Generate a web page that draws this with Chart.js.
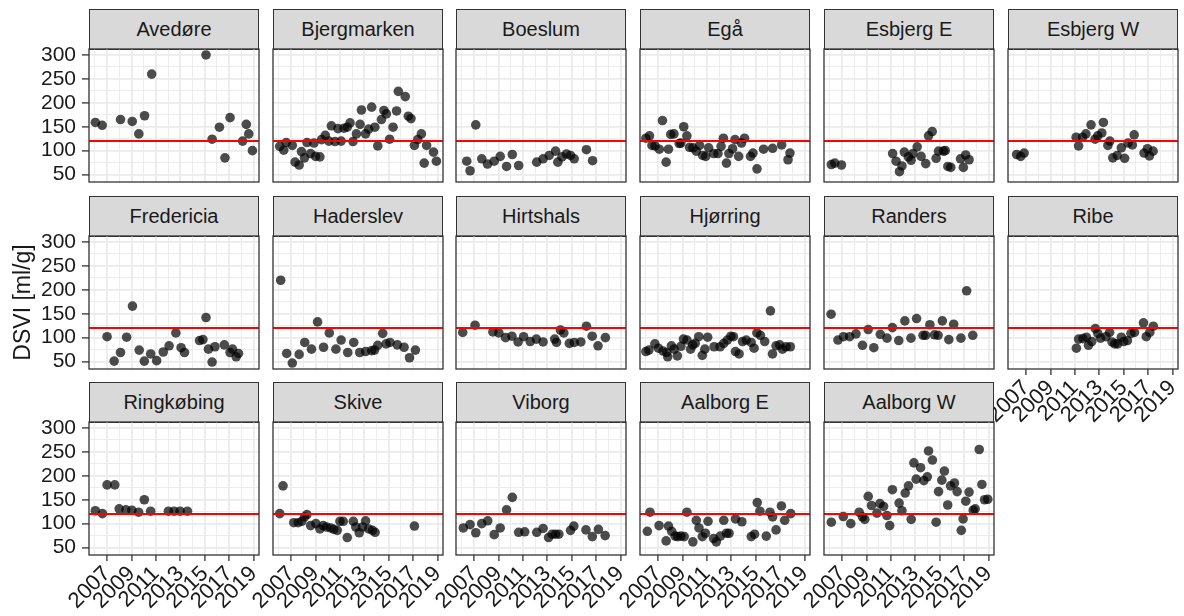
<!DOCTYPE html>
<html>
<head>
<meta charset="utf-8">
<script src="https://cdn.jsdelivr.net/npm/chart.js@4.4.1/dist/chart.umd.min.js"></script>
<style>
  html, body { margin: 0; padding: 0; background: #fff; }
  #page { position: relative; width: 1184px; height: 616px; overflow: hidden; }
  .strip {
    position: absolute; box-sizing: border-box;
    background: #d9d9d9; border: 1px solid #333;
    font-family: "Liberation Sans"; font-size: 20px; color: #1a1a1a;
    text-align: center; line-height: 39px; white-space: nowrap;
  }
  canvas { position: absolute; }
</style>
</head>
<body>
<div id="page"></div>
<script>
// DSVI samples per plant: [year, DSVI ml/g]
const avedore = [[2006.04,159],[2006.6,153],[2008.1,165],[2009.06,161],[2009.6,135],[2010.07,173],[2010.65,260],
  [2015.1,300],[2015.6,124],[2016.2,149],[2016.65,85],[2017.07,169],[2018.1,120],[2018.4,155],[2018.6,135],[2018.9,100]];
const bjergmarken = [[2006.07,109],[2006.4,101],[2006.6,117],[2007.1,111],[2007.33,76],[2007.66,70],[2007.85,98],
  [2008.1,85],[2008.3,117],[2008.6,94],[2008.87,116],[2009.0,88],[2009.36,87],[2009.5,123],[2009.8,132],[2010.1,120],
  [2010.3,152],[2010.6,119],[2010.84,146],[2011.1,120],[2011.33,147],[2011.6,149],[2011.83,158],[2012.07,119],
  [2012.35,135],[2012.65,155],[2012.76,185],[2013.1,135],[2013.35,145],[2013.6,191],[2013.86,149],[2014.1,110],
  [2014.4,165],[2014.6,184],[2014.8,177],[2015.07,124],[2015.35,149],[2015.64,183],[2015.78,224],[2016.35,213],
  [2016.6,172],[2016.82,167],[2017.1,111],[2017.37,123],[2017.67,135],[2017.9,74],[2018.1,111],[2018.66,97],[2018.9,78]];
const boeslum = [[2006.4,78],[2006.67,58],[2007.14,154],[2007.63,83],[2008.1,72],[2008.65,78],[2009.14,88],[2009.66,67],
  [2010.13,92],[2010.65,69],[2012.13,76],[2012.65,83],[2013.15,90],[2013.67,99],[2013.86,76],[2014.2,87],[2014.57,93],
  [2014.9,90],[2015.2,83],[2016.2,102],[2016.7,79]];
const egaa = [[2006.0,126],[2006.3,131],[2006.5,111],[2006.75,110],[2007.1,103],[2007.36,163],[2007.66,76],[2007.85,103],
  [2008.04,134],[2008.3,135],[2008.73,115],[2008.87,116],[2009.1,150],[2009.36,131],[2009.58,107],[2009.85,106],
  [2010.13,99],[2010.4,111],[2010.65,90],[2010.9,88],[2011.14,106],[2011.56,94],[2011.9,94],[2012.16,109],[2012.35,126],
  [2012.6,74],[2012.8,94],[2013.1,104],[2013.3,123],[2013.6,88],[2013.83,116],[2014.08,126],[2014.57,88],[2014.77,95],
  [2015.1,62],[2015.64,103],[2016.38,105],[2017.12,112],[2017.64,81],[2017.8,95]];
const esbjergE = [[2006.12,71],[2006.4,74],[2006.95,70],[2011.14,94],[2011.42,78],[2011.7,56],[2011.9,68],[2012.1,97],
  [2012.43,87],[2012.65,80],[2012.8,94],[2013.15,108],[2013.47,88],[2013.85,73],[2014.08,131],[2014.38,140],[2014.7,84],
  [2014.9,99],[2015.3,99],[2015.45,100],[2015.66,67],[2015.9,65],[2016.7,83],[2016.93,65],[2017.12,91],[2017.4,81]];
const esbjergW = [[2006.23,92],[2006.56,88],[2006.84,95],[2011.1,128],[2011.3,110],[2011.63,128],[2011.9,135],
  [2012.32,154],[2012.65,124],[2012.87,131],[2013.2,137],[2013.33,159],[2013.7,111],[2013.86,120],[2014.1,85],
  [2014.46,90],[2014.8,106],[2015.07,84],[2015.35,116],[2015.7,112],[2015.85,133],[2016.66,95],[2016.94,104],
  [2017.1,89],[2017.4,99]];
const fredericia = [[2007.0,102],[2007.58,51],[2008.1,69],[2008.6,101],[2009.08,166],[2009.63,74],[2010.05,51],
  [2010.57,66],[2011.06,52],[2011.6,70],[2012.08,83],[2012.63,110],[2013.06,79],[2013.34,69],[2014.57,94],[2014.85,96],
  [2015.1,142],[2015.3,76],[2015.6,49],[2015.83,81],[2016.6,85],[2017.07,69],[2017.27,76],[2017.57,60],[2017.76,67]];
const haderslev = [[2006.15,220],[2006.64,67],[2007.1,47],[2007.66,65],[2008.12,90],[2008.67,76],[2009.17,133],
  [2009.66,80],[2010.13,110],[2010.67,76],[2011.1,95],[2011.64,69],[2012.13,90],[2012.62,69],[2013.1,71],[2013.6,73],
  [2013.83,74],[2014.1,84],[2014.5,109],[2014.78,87],[2015.1,90],[2015.7,85],[2016.25,80],[2016.7,58],[2017.18,74]];
const hirtshals = [[2006.07,111],[2007.08,126],[2008.54,112],[2009.03,110],[2009.58,100],[2010.1,103],[2010.6,91],
  [2011.06,102],[2011.6,92],[2012.1,97],[2012.65,91],[2013.6,97],[2013.75,90],[2014.07,116],[2014.35,110],[2014.8,88],
  [2015.2,90],[2015.74,91],[2016.2,124],[2016.67,103],[2017.15,83],[2017.75,100]];
const hjorring = [[2006.0,71],[2006.25,74],[2006.74,87],[2007.03,78],[2007.41,72],[2007.71,69],[2007.79,60],[2008.09,83],
  [2008.32,76],[2008.58,62],[2008.87,82],[2009.08,97],[2009.37,95],[2009.66,76],[2009.84,85],[2010.04,88],[2010.33,102],
  [2010.62,63],[2010.83,76],[2011.06,101],[2011.59,81],[2012.08,81],[2012.38,88],[2012.67,95],[2012.96,103],[2013.17,102],
  [2013.34,71],[2013.63,66],[2013.92,92],[2014.22,95],[2014.62,90],[2014.86,78],[2015.09,110],[2015.38,105],[2015.73,92],
  [2016.2,156],[2016.37,66],[2016.66,83],[2016.96,85],[2017.19,76],[2017.48,81],[2017.83,81]];
const randers = [[2006.1,149],[2006.66,95],[2007.12,102],[2007.62,102],[2008.14,108],[2008.67,84],[2009.14,117],
  [2009.6,79],[2010.13,107],[2010.68,99],[2011.12,121],[2011.64,94],[2012.14,135],[2012.64,99],[2013.1,140],[2013.63,105],
  [2013.84,105],[2014.19,127],[2014.57,106],[2014.86,105],[2015.21,135],[2015.74,96],[2016.14,128],[2016.73,99],
  [2017.2,198],[2017.7,105]];
const ribe = [[2011.12,78],[2011.3,97],[2011.65,98],[2011.94,101],[2012.11,84],[2012.38,92],[2012.67,119],[2012.87,109],
  [2013.1,99],[2013.54,102],[2013.84,111],[2014.04,91],[2014.27,87],[2014.5,87],[2014.8,101],[2015.0,92],[2015.3,94],
  [2015.59,109],[2015.88,111],[2016.61,131],[2016.84,102],[2017.13,111],[2017.42,124]];
const ringkobing = [[2006.04,127],[2006.62,121],[2007.0,181],[2007.63,181],[2007.99,131],[2008.54,129],[2009.03,128],
  [2009.58,124],[2010.05,150],[2010.57,126],[2012.02,126],[2012.49,126],[2012.98,126],[2013.58,126]];
const skive = [[2006.07,121],[2006.34,179],[2007.22,102],[2007.58,102],[2007.88,105],[2008.1,114],[2008.3,119],
  [2008.6,96],[2009.03,100],[2009.36,89],[2009.63,96],[2009.9,93],[2010.24,91],[2010.5,88],[2010.78,86],[2011.0,105],
  [2011.27,105],[2011.6,71],[2012.1,105],[2012.3,93],[2012.58,81],[2012.85,93],[2013.1,106],[2013.36,89],[2013.66,86],
  [2013.88,82],[2017.1,95]];
const viborg = [[2006.12,91],[2006.67,98],[2007.14,81],[2007.63,100],[2008.12,106],[2008.65,77],[2009.14,91],
  [2009.66,129],[2010.13,155],[2010.65,82],[2011.15,83],[2012.13,82],[2012.65,90],[2013.1,71],[2013.4,78],[2013.67,78],
  [2013.94,78],[2014.9,86],[2015.17,95],[2016.16,87],[2016.68,73],[2017.18,88],[2017.73,75]];
const aalborgE = [[2006.12,84],[2006.34,124],[2007.08,96],[2007.66,64],[2007.85,95],[2008.12,84],[2008.4,74],[2008.6,73],
  [2008.87,74],[2009.14,73],[2009.36,124],[2009.85,62],[2010.13,107],[2010.35,91],[2010.62,73],[2010.87,80],[2011.09,105],
  [2011.55,69],[2011.77,62],[2012.1,74],[2012.38,107],[2012.6,80],[2012.81,80],[2013.34,110],[2013.86,104],[2014.63,73],
  [2014.9,78],[2015.12,144],[2015.34,126],[2015.86,74],[2016.16,124],[2016.38,114],[2016.66,87],[2017.1,137],
  [2017.37,107],[2017.86,121]];
const aalborgW = [[2006.12,103],[2007.1,115],[2007.71,100],[2008.4,124],[2008.67,114],[2008.86,109],[2009.14,157],
  [2009.41,138],[2009.85,122],[2010.1,142],[2010.4,136],[2010.67,117],[2010.9,96],[2011.12,171],[2011.67,143],
  [2011.9,127],[2012.17,164],[2012.44,179],[2012.66,109],[2012.88,227],[2013.07,193],[2013.43,217],[2013.7,190],
  [2013.98,198],[2014.08,252],[2014.4,233],[2014.7,103],[2014.9,167],[2015.17,191],[2015.38,210],[2015.65,139],
  [2015.88,179],[2016.2,185],[2016.42,167],[2016.76,86],[2016.91,110],[2017.13,147],[2017.4,166],[2017.74,128],
  [2017.9,131],[2018.23,255],[2018.45,182],[2018.67,150],[2018.93,151]];

const plantNames = ['Avedøre', 'Bjergmarken', 'Boeslum', 'Egå', 'Esbjerg E', 'Esbjerg W',
  'Fredericia', 'Haderslev', 'Hirtshals', 'Hjørring', 'Randers', 'Ribe',
  'Ringkøbing', 'Skive', 'Viborg', 'Aalborg E', 'Aalborg W'];
const plantData = [avedore, bjergmarken, boeslum, egaa, esbjergE, esbjergW,
  fredericia, haderslev, hirtshals, hjorring, randers, ribe,
  ringkobing, skive, viborg, aalborgE, aalborgW];

const limitDSVI = 120;
const xTickYears = [2007, 2009, 2011, 2013, 2015, 2017, 2019];
const xMinorYears = [2006, 2008, 2010, 2012, 2014, 2016, 2018];
const yTickValues = [50, 100, 150, 200, 250, 300];
const yMinorValues = [75, 125, 175, 225, 275];
const yTitle = 'DSVI [ml/g]';

// axis limits (ggplot 5% expansion)
const X_MIN = 2005.52, X_MAX = 2019.44;
const Y_MIN = 34.5, Y_MAX = 312.5;

// facet layout
const NCOL = 6;
const COL_LEFT = [89, 273, 456, 640, 824, 1008];
const STRIP_TOP = [9, 196, 382];
const PANEL_W = 170, STRIP_H = 40, PLOT_H = 133;
const PAD_L = 90, PAD_T = 24, PAD_R = 24, PAD_B = 64;
const FONT = 'Liberation Sans';

const page = document.getElementById('page');

const panelBorder = {
  id: 'panelBorder',
  afterDraw(chart) {
    const { ctx, chartArea: a } = chart;
    ctx.save();
    ctx.strokeStyle = '#333';
    ctx.lineWidth = 1.3;
    ctx.strokeRect(a.left, a.top, a.right - a.left, a.bottom - a.top);
    ctx.restore();
  }
};

function makePanel(i) {
  const col = i % NCOL, row = Math.floor(i / NCOL);
  const showX = i + NCOL >= plantNames.length;
  const showY = col === 0;
  const left = COL_LEFT[col], plotTop = STRIP_TOP[row] + STRIP_H;

  const strip = document.createElement('div');
  strip.className = 'strip';
  strip.textContent = plantNames[i];
  strip.style.left = left + 'px';
  strip.style.top = STRIP_TOP[row] + 'px';
  strip.style.width = PANEL_W + 'px';
  strip.style.height = (STRIP_H + 1) + 'px';
  page.appendChild(strip);

  const cv = document.createElement('canvas');
  cv.width = PAD_L + PANEL_W + PAD_R;
  cv.height = PAD_T + PLOT_H + PAD_B;
  cv.style.left = (left - PAD_L) + 'px';
  cv.style.top = (plotTop - PAD_T) + 'px';
  page.appendChild(cv);

  const xGrid = xMinorYears.concat(xTickYears).sort((a, b) => a - b);
  const yGrid = yMinorValues.concat(yTickValues).sort((a, b) => a - b);

  new Chart(cv, {
    type: 'scatter',
    data: {
      datasets: [
        {
          type: 'line',
          data: [{ x: X_MIN, y: limitDSVI }, { x: X_MAX, y: limitDSVI }],
          borderColor: '#ff0000',
          borderWidth: 2,
          pointRadius: 0,
          order: 0
        },
        {
          data: plantData[i].map(p => ({ x: p[0], y: p[1] })),
          backgroundColor: 'rgba(0,0,0,0.7)',
          borderWidth: 0,
          pointRadius: 4.8,
          order: 1
        }
      ]
    },
    options: {
      responsive: false,
      animation: false,
      events: [],
      layout: { padding: { left: showY ? 0 : PAD_L, top: PAD_T, right: PAD_R, bottom: showX ? 0 : PAD_B } },
      plugins: { legend: { display: false }, tooltip: { enabled: false } },
      scales: {
        x: {
          type: 'linear',
          min: X_MIN,
          max: X_MAX,
          afterBuildTicks: ax => { ax.ticks = xGrid.map(v => ({ value: v })); },
          afterFit: ax => { ax.height = showX ? PAD_B : 0; },
          border: { display: false },
          grid: {
            color: '#ebebeb',
            lineWidth: c => xTickYears.includes(c.tick.value) ? 1.8 : 0.9,
            drawTicks: showX,
            tickLength: 6,
            tickWidth: 1.3,
            tickColor: c => xTickYears.includes(c.tick.value) ? '#333' : 'rgba(0,0,0,0)'
          },
          ticks: {
            display: showX,
            autoSkip: false,
            minRotation: 45,
            maxRotation: 45,
            padding: 0,
            color: '#1a1a1a',
            font: { family: FONT, size: 22 },
            callback: v => xTickYears.includes(v) ? String(v) : ''
          }
        },
        y: {
          type: 'linear',
          min: Y_MIN,
          max: Y_MAX,
          afterBuildTicks: ax => { ax.ticks = yGrid.map(v => ({ value: v })); },
          afterFit: ax => { ax.width = showY ? PAD_L : 0; },
          border: { display: false },
          grid: {
            color: '#ebebeb',
            lineWidth: c => yTickValues.includes(c.tick.value) ? 1.8 : 0.9,
            drawTicks: showY,
            tickLength: 7,
            tickWidth: 1.3,
            tickColor: c => yTickValues.includes(c.tick.value) ? '#333' : 'rgba(0,0,0,0)'
          },
          ticks: {
            display: showY,
            autoSkip: false,
            padding: 6,
            color: '#1a1a1a',
            font: { family: FONT, size: 21 },
            callback: v => yTickValues.includes(v) ? String(v) : ''
          },
          title: {
            display: showY && row === 1,
            text: yTitle,
            color: '#1a1a1a',
            font: { family: FONT, size: 23 },
            padding: { top: 11, bottom: 0 }
          }
        }
      }
    },
    plugins: [panelBorder]
  });
}

plantNames.forEach((name, i) => makePanel(i));
</script>
</body>
</html>
